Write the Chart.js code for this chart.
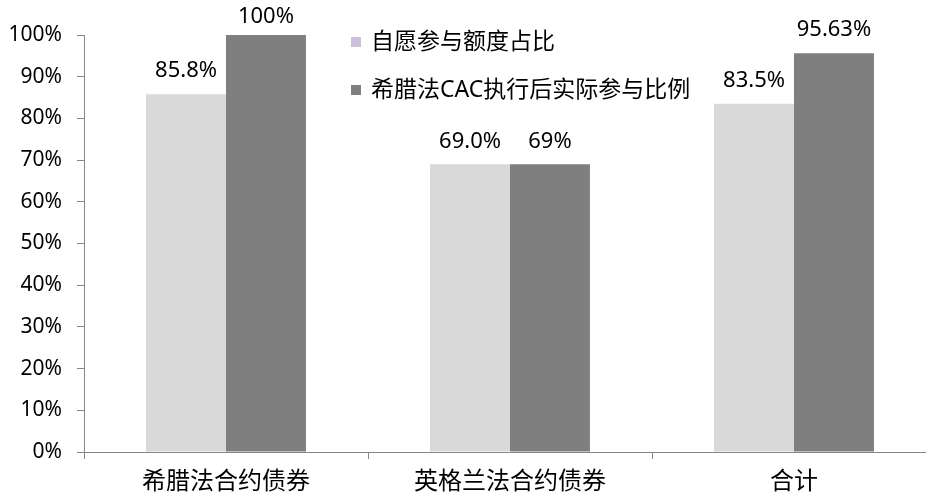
<!DOCTYPE html>
<html>
<head>
<meta charset="utf-8">
<script src="https://cdn.jsdelivr.net/npm/chart.js@4/dist/chart.umd.min.js"></script>
<style>
  html, body { margin: 0; padding: 0; background: #fff; overflow: hidden; }
  #wrap { width: 936px; height: 493px; position: relative; }
</style>
</head>
<body>
<div id="wrap"><canvas id="c"></canvas></div>
<script>
const categories = ['希腊法合约债券', '英格兰法合约债券', '合计'];
const seriesNames = ['自愿参与额度占比', '希腊法CAC执行后实际参与比例'];
const voluntary = [85.8, 69.0, 83.5];
const actual = [100, 69, 95.63];
const voluntaryLabels = ['85.8%', '69.0%', '83.5%'];
const actualLabels = ['100%', '69%', '95.63%'];
const yTicks = [0, 10, 20, 30, 40, 50, 60, 70, 80, 90, 100];

const barColors = ['#d9d9d9', '#7f7f7f'];
const legendColors = ['#ccc0da', '#7f7f7f'];
const FONT = '"Noto Sans", "Noto Sans CJK SC", sans-serif';

// draws value labels above bars and the in-plot legend
const annotate = {
    id: 'annotate',
    afterDatasetsDraw(chart) {
        const ctx = chart.ctx;
        const texts = [voluntaryLabels, actualLabels];
        ctx.save();
        ctx.font = '22px ' + FONT;
        ctx.fillStyle = '#000';
        ctx.textAlign = 'center';
        ctx.textBaseline = 'middle';
        chart.data.datasets.forEach((ds, i) => {
            chart.getDatasetMeta(i).data.forEach((bar, j) => {
                // keep labels inside the canvas, like the original does for 100%
                ctx.fillText(texts[i][j], bar.x, Math.max(bar.y - 23, 17));
            });
        });

        ctx.textAlign = 'left';
        ctx.font = '23px ' + FONT;
        const lx = 351, ly = [42, 90];
        seriesNames.forEach((name, i) => {
            ctx.fillStyle = legendColors[i];
            ctx.fillRect(lx, ly[i] - 5, 10, 10);
            ctx.fillStyle = '#000';
            ctx.fillText(name, lx + 20, ly[i]);
        });
        ctx.restore();
    }
};

new Chart(document.getElementById('c'), {
    type: 'bar',
    data: {
        labels: categories,
        datasets: [
            { label: seriesNames[0], data: voluntary, backgroundColor: barColors[0] },
            { label: seriesNames[1], data: actual, backgroundColor: barColors[1] }
        ]
    },
    options: {
        responsive: true,
        maintainAspectRatio: false,
        animation: false,
        layout: { padding: { top: 35, right: 0, left: 0, bottom: 0 } },
        plugins: {
            legend: { display: false },
            tooltip: { enabled: false }
        },
        datasets: {
            bar: { barPercentage: 1, categoryPercentage: 0.563 }
        },
        scales: {
            x: {
                afterFit: axis => { axis.height = 41; },
                grid: { drawOnChartArea: false, color: '#868686', tickLength: 7, offset: true },
                border: { color: '#868686' },
                ticks: { color: '#000', font: { size: 24, family: FONT }, padding: 9 }
            },
            y: {
                min: 0,
                max: 100,
                afterFit: axis => { axis.width = 84; },
                afterBuildTicks: axis => { axis.ticks = yTicks.map(v => ({ value: v })); },
                grid: { drawOnChartArea: false, color: '#868686', tickLength: 7 },
                border: { color: '#868686' },
                ticks: {
                    color: '#000',
                    font: { size: 21, family: FONT },
                    padding: 15,
                    callback: v => v + '%'
                }
            }
        }
    },
    plugins: [annotate]
});
</script>
</body>
</html>
